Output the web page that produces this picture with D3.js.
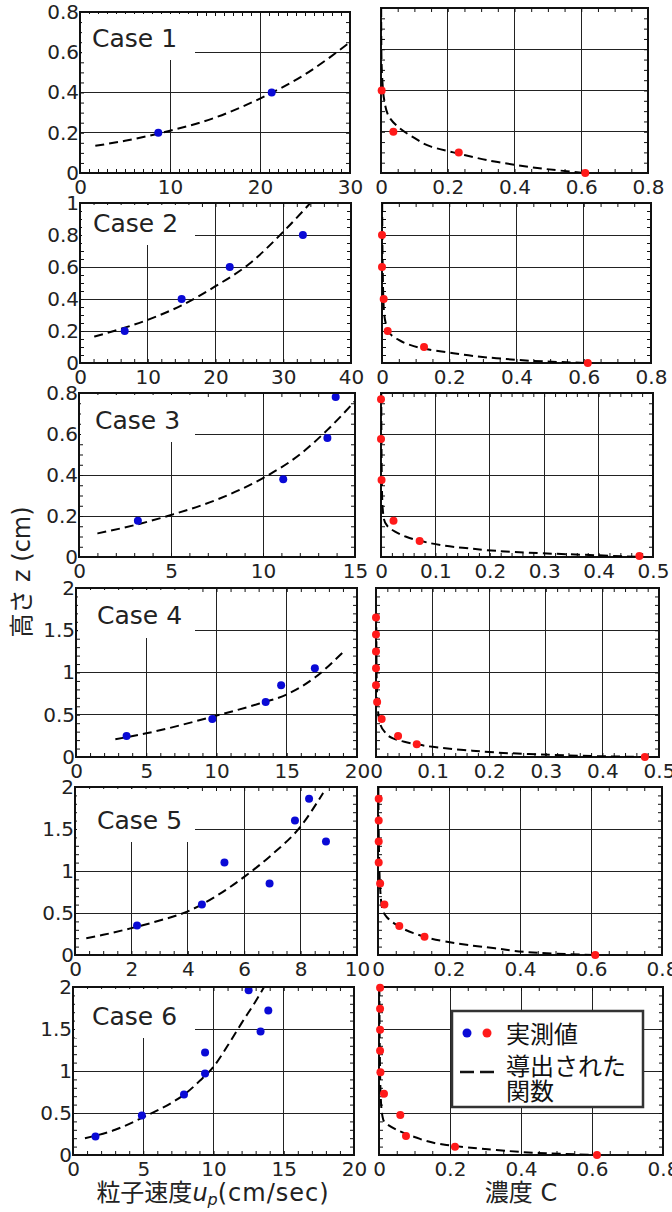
<!DOCTYPE html>
<html>
<head>
<meta charset="utf-8">
<script src="https://cdn.jsdelivr.net/npm/d3@7"></script>
<style>
  body { margin: 0; background: #fff; }
  svg { display: block; font-family: "DejaVu Sans", "Noto Sans CJK JP", sans-serif; }
</style>
</head>
<body>
<svg id="chart" width="672" height="1212"></svg>
<script>
// ---- values ----
const caseNames = ["Case 1", "Case 2", "Case 3", "Case 4", "Case 5", "Case 6"];

// left column: particle velocity u_p (cm/sec) vs height z (cm)
const velXMax   = [30, 40, 15, 20, 10, 20];
const velXMajor = [10, 10, 5, 5, 2, 5];
const velXMinor = [1, 2, 1, 1, 0.5, 1];

// shared height axis
const zMax   = [0.8, 1, 0.8, 2, 2, 2];
const zMajor = [0.2, 0.2, 0.2, 0.5, 0.5, 0.5];
const zMinor = [0.05, 0.05, 0.05, 0.1, 0.1, 0.1];

// right column: concentration C
const concXMax   = [0.8, 0.8, 0.5, 0.5, 0.8, 0.8];
const concXMajor = [0.2, 0.2, 0.1, 0.1, 0.2, 0.2];
const concXMinor = [0.05, 0.05, 0.02, 0.02, 0.05, 0.05];

// measured velocity [u_p, z]
const velPoints = [
  [[8.7, 0.20], [21.3, 0.40]],
  [[6.6, 0.20], [15.0, 0.40], [22.1, 0.60], [32.9, 0.80]],
  [[3.2, 0.177], [11.1, 0.379], [13.5, 0.58], [13.95, 0.78]],
  [[3.6, 0.25], [9.7, 0.45], [13.5, 0.65], [14.6, 0.85], [17.0, 1.05]],
  [[2.2, 0.35], [4.5, 0.60], [5.3, 1.10], [6.9, 0.85], [7.8, 1.60], [8.3, 1.86], [8.9, 1.35]],
  [[1.6, 0.22], [4.9, 0.47], [7.9, 0.72], [9.4, 0.97], [9.4, 1.22], [12.5, 1.96], [13.35, 1.47], [13.9, 1.72]]
];

// derived velocity function [u_p, z]
const velFit = [
  [[1.7, 0.135], [5, 0.16], [10, 0.21], [15, 0.275], [20, 0.37], [25, 0.49], [30, 0.65]],
  [[2.1, 0.165], [5, 0.2], [10, 0.27], [15, 0.36], [20, 0.48], [25, 0.62], [30, 0.82], [34, 1.0]],
  [[1.0, 0.115], [3, 0.155], [5, 0.205], [7.5, 0.28], [10, 0.385], [12, 0.5], [13.5, 0.62], [15, 0.76]],
  [[2.8, 0.21], [5, 0.28], [10, 0.49], [13, 0.63], [15, 0.74], [17, 0.94], [19, 1.24]],
  [[0.4, 0.2], [1, 0.24], [2, 0.32], [3, 0.41], [4, 0.52], [5, 0.7], [6, 0.93], [7, 1.2], [8, 1.53], [8.8, 1.93]],
  [[0.85, 0.2], [3, 0.3], [5, 0.45], [7, 0.62], [8, 0.73], [9, 0.88], [10, 1.05], [11, 1.3], [12, 1.57], [13, 1.83], [13.6, 2.0]]
];

// measured concentration [C, z]
const concPoints = [
  [[0.002, 0.40], [0.037, 0.20], [0.233, 0.10], [0.612, 0.0]],
  [[0.0, 0.80], [0.0, 0.60], [0.005, 0.40], [0.017, 0.20], [0.125, 0.10], [0.612, 0.0]],
  [[0.0, 0.77], [0.0, 0.576], [0.001, 0.376], [0.023, 0.177], [0.071, 0.078], [0.475, 0.005]],
  [[0, 1.65], [0, 1.45], [0, 1.25], [0, 1.05], [0, 0.85], [0.002, 0.65], [0.010, 0.45], [0.039, 0.25], [0.072, 0.15], [0.475, 0.0]],
  [[0.002, 1.86], [0.002, 1.6], [0.002, 1.35], [0.002, 1.1], [0.006, 0.85], [0.018, 0.6], [0.06, 0.345], [0.131, 0.218], [0.612, 0.0]],
  [[0.003, 1.99], [0.003, 1.74], [0.003, 1.49], [0.003, 1.24], [0.004, 0.985], [0.014, 0.73], [0.06, 0.476], [0.076, 0.226], [0.214, 0.099], [0.614, 0.0]]
];

// derived concentration function [C, z]
const concFit = [
  [[0.0005, 0.8], [0.001, 0.6], [0.004, 0.45], [0.01, 0.35], [0.025, 0.27], [0.05, 0.225], [0.1, 0.17], [0.15, 0.128], [0.23, 0.095], [0.35, 0.053], [0.49, 0.02], [0.61, 0.0]],
  [[0.0005, 1.0], [0.002, 0.6], [0.005, 0.35], [0.012, 0.24], [0.025, 0.18], [0.045, 0.15], [0.08, 0.115], [0.125, 0.09], [0.19, 0.068], [0.34, 0.03], [0.48, 0.01], [0.61, 0.0]],
  [[0.0005, 0.8], [0.001, 0.5], [0.002, 0.3], [0.005, 0.19], [0.012, 0.15], [0.025, 0.125], [0.045, 0.1], [0.07, 0.08], [0.15, 0.045], [0.27, 0.021], [0.4, 0.008], [0.475, 0.0]],
  [[0.0005, 1.7], [0.001, 1.0], [0.003, 0.6], [0.007, 0.4], [0.015, 0.3], [0.03, 0.22], [0.05, 0.18], [0.072, 0.15], [0.1, 0.12], [0.155, 0.083], [0.27, 0.035], [0.39, 0.01], [0.475, 0.0]],
  [[0.001, 2.0], [0.003, 1.2], [0.006, 0.8], [0.012, 0.55], [0.025, 0.45], [0.053, 0.357], [0.1, 0.26], [0.19, 0.16], [0.33, 0.08], [0.475, 0.02], [0.61, 0.0]],
  [[0.001, 2.0], [0.003, 1.0], [0.006, 0.6], [0.012, 0.42], [0.05, 0.3], [0.1, 0.215], [0.19, 0.12], [0.33, 0.06], [0.47, 0.02], [0.61, 0.0]]
];

// ---- layout (pixels) ----
const leftFrames = [
  {x: 80, y: 12,  w: 270, h: 161},
  {x: 80, y: 203, w: 271, h: 160},
  {x: 79, y: 393, w: 276, h: 164},
  {x: 76, y: 588, w: 281, h: 169},
  {x: 75, y: 787, w: 282, h: 168},
  {x: 73, y: 987, w: 281, h: 168}
];
const rightFrames = [
  {x: 381, y: 8,   w: 267, h: 165},
  {x: 382, y: 203, w: 269, h: 160},
  {x: 381, y: 393, w: 272, h: 164},
  {x: 376, y: 588, w: 283, h: 169},
  {x: 378, y: 787, w: 284, h: 168},
  {x: 379, y: 987, w: 284, h: 168}
];
const labelBoxH   = [48, 42, 49, 50, 55, 51];
const labelTextX  = [92, 93, 95, 97, 97, 92];
const labelBaseDy = [35, 29, 36, 36, 42, 38];

const blue = "#0a0ad6", red = "#ff1a1a";
const svg = d3.select("#chart");
const defs = svg.append("defs");

const steps = (max, step) =>
  d3.range(0, Math.round(max / step) + 1).map(i => +(i * step).toFixed(6));
const fmt = v => String(v);

function drawPanel(id, f, xMax, xMaj, xMin, yMax, yMaj, yMin, showY) {
  const x = d3.scaleLinear().domain([0, xMax]).range([f.x, f.x + f.w]);
  const y = d3.scaleLinear().domain([0, yMax]).range([f.y + f.h, f.y]);
  const g = svg.append("g");

  defs.append("clipPath").attr("id", id)
    .append("rect").attr("x", f.x).attr("y", f.y).attr("width", f.w).attr("height", f.h);

  const xMajors = steps(xMax, xMaj), yMajors = steps(yMax, yMaj);

  // grid
  const grid = g.append("g").attr("stroke", "#222").attr("stroke-width", 1).attr("shape-rendering", "crispEdges");
  grid.selectAll("line.v").data(xMajors.slice(1, -1)).join("line")
    .attr("x1", d => x(d)).attr("x2", d => x(d)).attr("y1", f.y).attr("y2", f.y + f.h);
  grid.selectAll("line.h").data(yMajors.slice(1, -1)).join("line")
    .attr("y1", d => y(d)).attr("y2", d => y(d)).attr("x1", f.x).attr("x2", f.x + f.w);

  // minor ticks on all four sides, pointing inward
  const tick = (axis, tr) => {
    const a = g.append("g").attr("transform", tr).call(axis);
    a.select(".domain").remove();
    a.selectAll("line").attr("stroke", "#111");
    return a;
  };
  const xm = steps(xMax, xMin), ym = steps(yMax, yMin);
  tick(d3.axisBottom(x).tickValues(xm).tickSize(-4).tickFormat(""), `translate(0,${f.y + f.h})`);
  tick(d3.axisTop(x).tickValues(xm).tickSize(-4).tickFormat(""), `translate(0,${f.y})`);
  tick(d3.axisLeft(y).tickValues(ym).tickSize(-4).tickFormat(""), `translate(${f.x},0)`);
  tick(d3.axisRight(y).tickValues(ym).tickSize(-4).tickFormat(""), `translate(${f.x + f.w},0)`);

  // tick labels
  const xl = tick(d3.axisBottom(x).tickValues(xMajors).tickSize(0).tickPadding(7).tickFormat(fmt),
    `translate(0,${f.y + f.h})`);
  xl.attr("font-size", 20).attr("font-family", null).selectAll("text").attr("fill", "#222");
  if (showY) {
    const yl = tick(d3.axisLeft(y).tickValues(yMajors).tickSize(0).tickPadding(1).tickFormat(fmt),
      `translate(${f.x},0)`);
    yl.attr("font-size", 20).attr("font-family", null).selectAll("text").attr("fill", "#222");
  }
  return {g, x, y};
}

const line = (x, y) => d3.line().x(d => x(d[0])).y(d => y(d[1])).curve(d3.curveMonotoneY);

caseNames.forEach((name, i) => {
  // ---- velocity panel ----
  const L = leftFrames[i];
  const p = drawPanel("clipL" + i, L, velXMax[i], velXMajor[i], velXMinor[i], zMax[i], zMajor[i], zMinor[i], true);

  // case label with white backing
  p.g.append("rect").attr("x", L.x + 2).attr("y", L.y + 2)
    .attr("width", 195 - L.x - 2).attr("height", labelBoxH[i] - 2).attr("fill", "#fff");
  p.g.append("text").attr("x", labelTextX[i]).attr("y", L.y + labelBaseDy[i])
    .attr("font-size", 25).attr("fill", "#222").text(name);

  p.g.append("path").datum(velFit[i])
    .attr("clip-path", `url(#clipL${i})`)
    .attr("d", d3.line().x(d => p.x(d[0])).y(d => p.y(d[1])).curve(d3.curveMonotoneX))
    .attr("fill", "none").attr("stroke", "#000").attr("stroke-width", 2).attr("stroke-dasharray", "9,5");
  p.g.selectAll("circle").data(velPoints[i]).join("circle")
    .attr("cx", d => p.x(d[0])).attr("cy", d => p.y(d[1])).attr("r", 4).attr("fill", blue);
  p.g.append("rect").attr("x", L.x).attr("y", L.y).attr("width", L.w).attr("height", L.h)
    .attr("fill", "none").attr("stroke", "#111").attr("stroke-width", 2);

  // ---- concentration panel ----
  const R = rightFrames[i];
  const q = drawPanel("clipR" + i, R, concXMax[i], concXMajor[i], concXMinor[i], zMax[i], zMajor[i], zMinor[i], false);
  q.g.append("rect").attr("x", R.x).attr("y", R.y).attr("width", R.w).attr("height", R.h)
    .attr("fill", "none").attr("stroke", "#111").attr("stroke-width", 2);
  q.g.append("path").datum(concFit[i])
    .attr("clip-path", `url(#clipR${i})`)
    .attr("d", line(q.x, q.y))
    .attr("fill", "none").attr("stroke", "#000").attr("stroke-width", 2).attr("stroke-dasharray", "9,5");
  q.g.selectAll("circle").data(concPoints[i]).join("circle")
    .attr("cx", d => q.x(d[0])).attr("cy", d => q.y(d[1])).attr("r", 4).attr("fill", red);
});

// ---- legend (inside Case 6 concentration panel) ----
const lg = svg.append("g");
lg.append("rect").attr("x", 452).attr("y", 1011).attr("width", 191).attr("height", 96)
  .attr("fill", "#fff").attr("stroke", "#333").attr("stroke-width", 2.5);
lg.append("circle").attr("cx", 467).attr("cy", 1033).attr("r", 4.5).attr("fill", blue);
lg.append("circle").attr("cx", 487).attr("cy", 1033).attr("r", 4.5).attr("fill", red);
lg.append("line").attr("x1", 460).attr("x2", 494).attr("y1", 1072).attr("y2", 1072)
  .attr("stroke", "#111").attr("stroke-width", 2.5).attr("stroke-dasharray", "14,6");
const lt = lg.append("g").attr("font-size", 24).attr("fill", "#111")
  .attr("font-family", "'Noto Sans CJK JP', sans-serif");
lt.append("text").attr("x", 506).attr("y", 1043).text("実測値");
lt.append("text").attr("x", 506).attr("y", 1075).text("導出された");
lt.append("text").attr("x", 506).attr("y", 1100).text("関数");

// ---- axis titles ----
svg.append("text")
  .attr("transform", "translate(30,572) rotate(-90)")
  .attr("text-anchor", "middle").attr("font-size", 24).attr("fill", "#222")
  .text("高さ z (cm)");

const xt = svg.append("text").attr("x", 213).attr("y", 1201)
  .attr("text-anchor", "middle").attr("font-size", 24).attr("fill", "#222");
xt.append("tspan").text("粒子速度");
xt.append("tspan").attr("font-style", "italic").text("u");
xt.append("tspan").attr("font-size", 16).attr("dy", 4).attr("font-style", "italic").text("p");
xt.append("tspan").attr("dy", -4).attr("letter-spacing", 1).text("(cm/sec)");

svg.append("text").attr("x", 521).attr("y", 1201)
  .attr("text-anchor", "middle").attr("font-size", 24).attr("fill", "#222")
  .text("濃度 C");
</script>
</body>
</html>
